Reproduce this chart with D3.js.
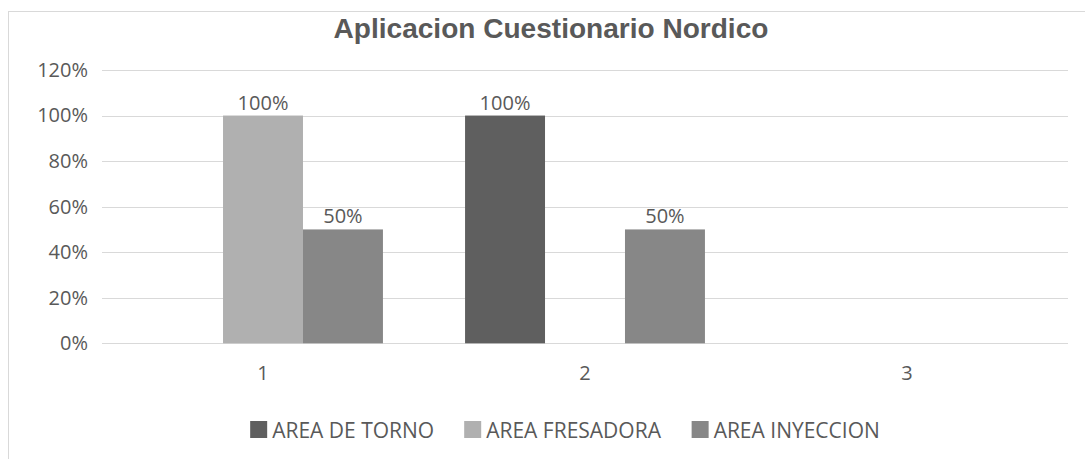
<!DOCTYPE html>
<html>
<head>
<meta charset="utf-8">
<script src="https://cdn.jsdelivr.net/npm/d3@7"></script>
<style>
  body { margin: 0; background: #fff; }
  svg { display: block; font-family: "Open Sans", sans-serif; }
</style>
</head>
<body>
<svg width="1085" height="459"></svg>
<script>
// chart data
const categories = ["1", "2", "3"];
const seriesNames = ["AREA DE TORNO", "AREA FRESADORA", "AREA INYECCION"];
const seriesColors = ["#5f5f5f", "#b0b0b0", "#878787"];
const torno = [null, 1, null];
const fresadora = [1, null, null];
const inyeccion = [0.5, 0.5, null];
const yTicks = [0, 0.2, 0.4, 0.6, 0.8, 1, 1.2];

const values = [torno, fresadora, inyeccion];
const textColor = "#595959";

const svg = d3.select("svg");

// outer chart frame
svg.append("rect")
  .attr("x", 8.5).attr("y", 11.5)
  .attr("width", 1090).attr("height", 460)
  .attr("fill", "#fff")
  .attr("stroke", "#d9d9d9");

var title = svg.append("text")
  .attr("x", 551).attr("y", 38)
  .attr("text-anchor", "middle")
  .attr("font-family", "Liberation Sans, Arial, sans-serif")
  .attr("font-size", 24)
  .attr("font-weight", "bold")
  .attr("fill", textColor)
  .text("Aplicacion Cuestionario Nordico");
// size title so it spans about as wide as the original
var tw = title.node().getComputedTextLength();
title.attr("font-size", 24 * 435 / tw);

var y = d3.scaleLinear().domain([0, 1.2]).range([343.3, 70]);
var x0 = d3.scaleBand().domain(categories).range([102, 1068])
  .paddingInner(0.255).paddingOuter(0.1275);
var x1 = d3.scaleBand().domain(seriesNames).range([0, x0.bandwidth()]);

// gridlines
svg.append("g")
  .selectAll("line")
  .data(yTicks)
  .join("line")
  .attr("x1", 102).attr("x2", 1068)
  .attr("y1", d => Math.round(y(d)) + 0.5)
  .attr("y2", d => Math.round(y(d)) + 0.5)
  .attr("stroke", "#d9d9d9")
  .attr("stroke-width", 1);

// y axis labels
var yAxis = d3.axisLeft(y).tickValues(yTicks).tickFormat(d3.format(".0%")).tickSize(0).tickPadding(0);
var gy = svg.append("g").attr("transform", "translate(88,0)").call(yAxis);
gy.select(".domain").remove();
gy.selectAll("text")
  .attr("font-family", "Open Sans")
  .attr("font-size", 20)
  .attr("fill", textColor);

// x axis labels
var xAxis = d3.axisBottom(x0).tickSize(0).tickPadding(0);
var gx = svg.append("g").attr("transform", "translate(0,366)").call(xAxis);
gx.select(".domain").remove();
gx.selectAll("text")
  .attr("font-family", "Open Sans")
  .attr("font-size", 20)
  .attr("fill", textColor);

// bars
var rows = [];
categories.forEach((c, i) => {
  seriesNames.forEach((s, j) => {
    if (values[j][i] != null) rows.push({ cat: c, series: s, idx: j, v: values[j][i] });
  });
});

svg.append("g")
  .selectAll("rect")
  .data(rows)
  .join("rect")
  .attr("x", d => x0(d.cat) + x1(d.series))
  .attr("y", d => y(d.v))
  .attr("width", x1.bandwidth())
  .attr("height", d => y(0) - y(d.v))
  .attr("fill", d => seriesColors[d.idx]);

svg.append("g")
  .selectAll("text")
  .data(rows)
  .join("text")
  .attr("x", d => x0(d.cat) + x1(d.series) + x1.bandwidth() / 2)
  .attr("y", d => y(d.v) - 6)
  .attr("text-anchor", "middle")
  .attr("font-size", 20)
  .attr("fill", textColor)
  .text(d => d3.format(".0%")(d.v));

// legend
var legend = svg.append("g");
var sw = 17, gap = 5, spacing = 30;
var items = legend.selectAll("g")
  .data(seriesNames)
  .join("g");
items.append("rect")
  .attr("width", sw).attr("height", sw)
  .attr("y", 421)
  .attr("fill", (d, i) => seriesColors[i]);
items.append("text")
  .attr("x", sw + gap)
  .attr("y", 438)
  .attr("font-size", 21)
  .attr("fill", textColor)
  .text(d => d);

var offs = [], cx = 0;
items.each(function () {
  offs.push(cx);
  cx += this.getBBox().width + spacing;
});
var total = cx - spacing;
var startX = 565 - total / 2;
items.attr("transform", (d, i) => `translate(${startX + offs[i]},0)`);
</script>
</body>
</html>
